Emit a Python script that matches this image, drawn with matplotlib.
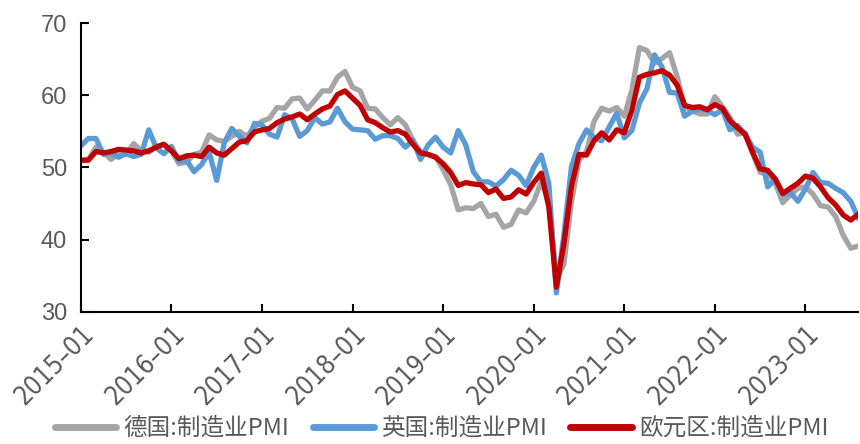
import matplotlib
matplotlib.use('Agg')
import matplotlib.pyplot as plt
import pandas as pd

plt.rcParams['font.family'] = ['Liberation Sans', 'Noto Sans CJK SC', 'DejaVu Sans']

months = pd.date_range('2015-01-01', '2023-08-01', freq='MS')

# 德国:制造业PMI
germany = [
    50.9, 51.1, 52.8, 52.1, 51.1, 51.9, 51.8, 53.3, 52.3, 52.1, 52.9, 53.2,
    52.3, 50.5, 50.7, 51.8, 52.1, 54.5, 53.8, 53.6, 54.3, 55.0, 54.3, 55.6,
    56.4, 56.8, 58.3, 58.2, 59.5, 59.6, 58.1, 59.3, 60.6, 60.6, 62.5, 63.3,
    61.1, 60.6, 58.2, 58.1, 56.9, 55.9, 56.9, 55.9, 53.7, 52.2, 51.8, 51.5,
    49.7, 47.6, 44.1, 44.4, 44.3, 45.0, 43.2, 43.5, 41.7, 42.1, 44.1, 43.7,
    45.3, 48.0, 45.4, 34.5, 36.6, 45.2, 51.0, 52.2, 56.4, 58.2, 57.8, 58.3,
    57.1, 60.7, 66.6, 66.2, 64.4, 65.1, 65.9, 62.6, 58.4, 57.8, 57.4, 57.4,
    59.8, 58.4, 56.9, 54.6, 54.8, 52.0, 49.3, 49.1, 47.8, 45.1, 46.2, 47.1,
    47.3, 46.3, 44.7, 44.5, 43.2, 40.6, 38.8, 39.1,
]

# 英国:制造业PMI
uk = [
    53.0, 54.0, 54.0, 51.8, 52.0, 51.4, 51.9, 51.5, 51.8, 55.2, 52.7, 51.9,
    52.9, 50.8, 51.0, 49.4, 50.4, 52.1, 48.2, 53.4, 55.4, 54.3, 53.4, 56.1,
    55.9, 54.6, 54.2, 57.3, 56.7, 54.3, 55.1, 56.9, 56.0, 56.3, 58.2, 56.3,
    55.3, 55.2, 55.1, 53.9, 54.4, 54.4, 54.0, 52.8, 53.8, 51.1, 53.1, 54.2,
    52.8, 52.0, 55.1, 53.1, 49.4, 48.0, 48.0, 47.4, 48.3, 49.6, 48.9, 47.5,
    50.0, 51.7, 47.8, 32.6, 40.7, 50.1, 53.3, 55.2, 54.1, 53.7, 55.6, 57.5,
    54.1, 55.1, 58.9, 60.9, 65.6, 63.9, 60.4, 60.3, 57.1, 57.8, 58.1, 57.9,
    57.3, 58.0, 55.2, 55.8, 54.6, 52.8, 52.1, 47.3, 48.4, 46.2, 46.5, 45.3,
    47.0, 49.3, 47.9, 47.8, 47.1, 46.5, 45.3, 43.0,
]

# 欧元区:制造业PMI
eurozone = [
    51.0, 51.0, 52.2, 52.0, 52.2, 52.5, 52.4, 52.3, 52.0, 52.3, 52.8, 53.2,
    52.3, 51.2, 51.6, 51.7, 51.5, 52.8, 52.0, 51.7, 52.6, 53.5, 53.7, 54.9,
    55.2, 55.4, 56.2, 56.7, 57.0, 57.4, 56.6, 57.4, 58.1, 58.5, 60.1, 60.6,
    59.6, 58.6, 56.6, 56.2, 55.5, 54.9, 55.1, 54.6, 53.2, 52.0, 51.8, 51.4,
    50.5, 49.3, 47.5, 47.9, 47.7, 47.6, 46.5, 47.0, 45.7, 45.9, 46.9, 46.3,
    47.9, 49.2, 44.5, 33.4, 39.4, 47.4, 51.8, 51.7, 53.7, 54.8, 53.8, 55.2,
    54.8, 57.9, 62.5, 62.9, 63.1, 63.4, 62.8, 61.4, 58.6, 58.3, 58.4, 58.0,
    58.7, 58.2, 56.5, 55.5, 54.6, 52.1, 49.8, 49.6, 48.4, 46.4, 47.1, 47.8,
    48.8, 48.5, 47.3, 45.8, 44.8, 43.4, 42.7, 43.5,
]

labels = ['德国:制造业PMI', '英国:制造业PMI', '欧元区:制造业PMI']
colors = ['#A5A5A5', '#5B9BD5', '#C00000']

tick_pos = list(range(0, len(months), 12))
tick_labels = [months[i].strftime('%Y–%m') for i in tick_pos]

fig = plt.figure(figsize=(8.6, 4.44), dpi=100)
ax = fig.add_axes([0.094, 0.298, 0.904, 0.650])

x = range(len(months))
for vals, lab, c in zip([germany, uk, eurozone], labels, colors):
    ax.plot(x, vals, color=c, lw=3.8, label=lab, solid_joinstyle='round')

ax.set_xlim(0, len(months) - 1)
ax.set_ylim(30, 70)
ax.set_yticks([30, 40, 50, 60, 70])
ax.set_xticks(tick_pos)
ax.set_xticklabels(tick_labels, rotation=45, ha='right', rotation_mode='anchor',
                   family=['DejaVu Sans'], stretch='condensed', fontsize=18.5)

for s in ['top', 'right']:
    ax.spines[s].set_visible(False)
for s in ['left', 'bottom']:
    ax.spines[s].set_linewidth(1.5)
    ax.spines[s].set_color('black')

ax.tick_params(axis='both', direction='in', length=6, width=1.5, colors='black',
               labelcolor='#595959')
ax.tick_params(axis='y', labelsize=17, pad=10)
ax.tick_params(axis='x', pad=7)

leg = ax.legend(loc='center', bbox_to_anchor=(0.464, -0.405), ncol=3,
                frameon=False, handlelength=2.6, handletextpad=0.3,
                columnspacing=1.0, borderpad=0.1,
                prop={'family': ['Noto Sans CJK SC', 'DejaVu Sans'], 'size': 17})
for t in leg.get_texts():
    t.set_color('#595959')
for h in leg.get_lines():
    h.set_linewidth(5)
    h.set_solid_capstyle('round')

fig.savefig('out.png', dpi=100)
